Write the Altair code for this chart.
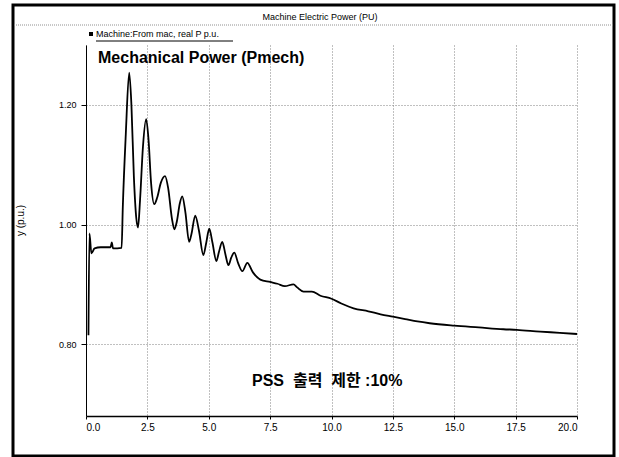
import altair as alt
import pandas as pd

# Time (s) and mechanical power (p.u.)
time_s = [0.10, 0.14, 0.22, 0.35, 0.60, 1.00, 1.05, 1.10, 1.45, 1.50, 1.62, 1.76,
          1.85, 1.95, 2.05, 2.12, 2.20, 2.32, 2.45, 2.55, 2.65, 2.78, 2.90, 3.05,
          3.22, 3.35, 3.50, 3.60, 3.70, 3.82, 3.92, 4.05, 4.20, 4.30, 4.45, 4.60,
          4.78, 4.90, 5.02, 5.15, 5.31, 5.42, 5.55, 5.68, 5.80, 5.92, 6.04, 6.20,
          6.37, 6.57, 6.80, 7.10, 7.50, 7.80, 8.10, 8.45, 8.60, 8.86, 9.20, 9.55,
          10.0, 10.4, 10.9, 11.5, 12.0, 12.5, 13.0, 13.5, 14.0, 15.0, 16.0, 17.0,
          17.55, 18.5, 19.3, 20.0]
power_pu = [0.815, 0.985, 0.952, 0.960, 0.962, 0.962, 0.970, 0.960, 0.961, 1.030, 1.150, 1.254,
            1.200, 1.080, 1.010, 0.995, 1.040, 1.130, 1.176, 1.140, 1.070, 1.034, 1.045, 1.070,
            1.081, 1.060, 1.010, 0.992, 1.005, 1.035, 1.047, 1.020, 0.971, 0.985, 1.015, 0.990,
            0.949, 0.970, 0.993, 0.970, 0.939, 0.955, 0.971, 0.950, 0.932, 0.945, 0.953, 0.935,
            0.922, 0.936, 0.920, 0.908, 0.904, 0.901, 0.897, 0.900, 0.895, 0.888, 0.888, 0.881,
            0.876, 0.868, 0.860, 0.855, 0.850, 0.846, 0.842, 0.838, 0.835, 0.831, 0.828, 0.825,
            0.824, 0.821, 0.819, 0.817]

x_ticks = [0, 2.5, 5, 7.5, 10, 12.5, 15, 17.5, 20]
y_ticks = [0.8, 1.0, 1.2]

window_title = "Machine Electric Power (PU)"
legend_label = "Machine:From mac, real P p.u."
main_label = "Mechanical Power (Pmech)"
note_label = "PSS\u00a0\u00a0출력\u00a0\u00a0제한\u00a0:10%"

FONT = "Liberation Sans, Arial, sans-serif"
KFONT = "Liberation Sans, Noto Sans CJK KR, sans-serif"

df = pd.DataFrame({"t": time_s, "p": power_pu})
one = pd.DataFrame({"a": [0]})

grid_kw = dict(grid=True, gridColor="#808080", gridDash=[1, 2], gridWidth=1)

line = alt.Chart(df).mark_line(color="black", strokeWidth=1.8, interpolate="monotone").encode(
    x=alt.X("t:Q",
            scale=alt.Scale(domain=[0, 20], nice=False, zero=False),
            axis=alt.Axis(values=x_ticks, format=".1f", title=None,
                          labelFont=FONT, labelFontSize=10, labelColor="black",
                          labelPadding=3, tickSize=3, tickColor="black",
                          domainColor="black", domainWidth=1.5, **grid_kw)),
    y=alt.Y("p:Q",
            scale=alt.Scale(domain=[0.68, 1.30], nice=False, zero=False),
            axis=alt.Axis(values=y_ticks, format=".2f", title="y (p.u.)",
                          titleFont=FONT, titleFontSize=10, titleFontWeight="normal",
                          titleColor="black", titleX=-61, titleY=175,
                          labelFont=FONT, labelFontSize=9, labelColor="black",
                          labelPadding=5, tickSize=5, tickColor="black",
                          domainColor="black", domainWidth=1, **grid_kw)),
)

frame = alt.Chart(one).mark_rect(fill="transparent", stroke="black", strokeWidth=3).encode(
    x=alt.value(-73), x2=alt.value(528), y=alt.value(-40), y2=alt.value(411))

sep = alt.Chart(one).mark_rule(color="#909090", strokeDash=[1, 1], strokeWidth=1).encode(
    x=alt.value(-72), x2=alt.value(527), y=alt.value(-20))

title_txt = alt.Chart(one).mark_text(text=window_title, font=FONT, fontSize=9,
                                     align="center", baseline="middle", color="black").encode(
    x=alt.value(234), y=alt.value(-28))

legend_sq = alt.Chart(one).mark_square(size=16, color="black", opacity=1).encode(
    x=alt.value(5), y=alt.value(-11))
legend_txt = alt.Chart(one).mark_text(text=legend_label, font=FONT, fontSize=9,
                                      align="left", baseline="middle", color="black").encode(
    x=alt.value(10), y=alt.value(-11))
legend_ul = alt.Chart(one).mark_rule(color="black", strokeWidth=1).encode(
    x=alt.value(10), x2=alt.value(147), y=alt.value(-4))

main_txt = alt.Chart(one).mark_text(text=main_label, font=FONT, fontSize=16, fontWeight="bold",
                                    align="left", baseline="middle", color="black").encode(
    x=alt.value(12), y=alt.value(13))

note_txt = alt.Chart(one).mark_text(text=note_label, font=KFONT, fontSize=16, fontWeight="bold",
                                    align="left", baseline="middle", color="black").encode(
    x=alt.value(166), y=alt.value(336))

chart = alt.layer(line, frame, sep, title_txt, legend_sq, legend_txt, legend_ul,
                  main_txt, note_txt).properties(
    width=491, height=371,
    autosize=alt.AutoSizeParams(type="none"),
    padding={"left": 86, "top": 45, "right": 42, "bottom": 41},
    background="white",
).configure_view(stroke="transparent")

chart.save("out.html", embed_options={"renderer": "svg", "actions": False})
